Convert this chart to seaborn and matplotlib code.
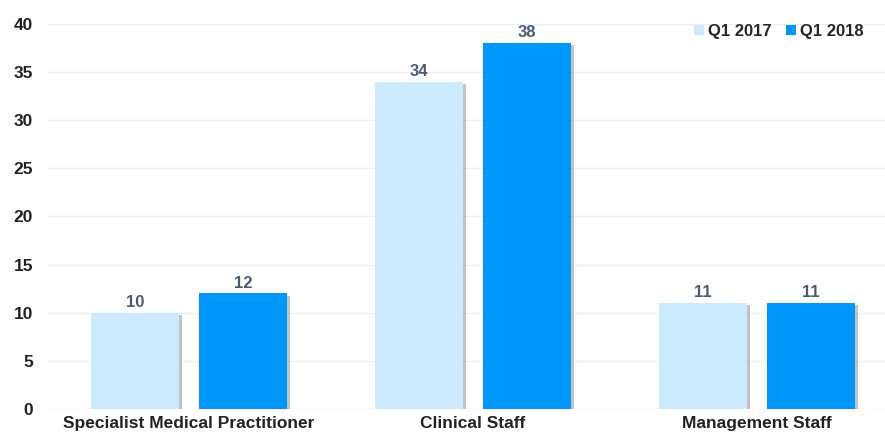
import pandas as pd
import matplotlib
matplotlib.use('Agg')
import matplotlib.pyplot as plt
import matplotlib.patheffects as pe
import seaborn as sns

# Data
categories = ['Specialist Medical Practitioner', 'Clinical Staff', 'Management Staff']
q1_2017 = [10, 34, 11]
q1_2018 = [12, 38, 11]
periods = ['Q1 2017', 'Q1 2018']
colors = ['#cdeafc', '#0097fb']

df = pd.DataFrame({
    'Category': categories * 2,
    'Period': [periods[0]] * 3 + [periods[1]] * 3,
    'Value': q1_2017 + q1_2018,
})

sns.set_style("white")
plt.rcParams['font.family'] = ['Liberation Sans', 'DejaVu Sans']

fig = plt.figure(figsize=(8.85, 4.41), dpi=100)
ax = fig.add_axes([0.053, 0.0726, 0.963, 0.873])

sns.barplot(data=df, x='Category', y='Value', hue='Period', order=categories,
            hue_order=periods, palette=colors, width=0.76, gap=0.18,
            saturation=1, ax=ax, legend=True)

# Soft shadow on bars
for bar in ax.patches:
    bar.set_edgecolor('none')
    bar.set_path_effects([pe.SimplePatchShadow(offset=(1.8, -1.5), shadow_rgbFace='#555555', alpha=0.35),
                          pe.Normal()])

for cont in ax.containers:
    ax.bar_label(cont, padding=2, fontsize=12, fontweight='bold', color='#4d5b70')

ax.set_ylim(0, 40)
ax.set_xlim(-0.5, 2.5)
ax.set_yticks(range(0, 41, 5))
ax.yaxis.grid(True, color='#eeeeee', linewidth=1)
ax.set_axisbelow(True)
ax.set_xlabel('')
ax.set_ylabel('')
sns.despine(ax=ax, left=True, bottom=True)
ax.tick_params(axis='both', length=0, labelsize=12.5)
ax.tick_params(axis='y', pad=10)
ax.tick_params(axis='x', pad=5)
for lbl in ax.get_xticklabels() + ax.get_yticklabels():
    lbl.set_fontweight('bold')
    lbl.set_color('#222222')

handles, labels = ax.get_legend_handles_labels()
leg = ax.legend(handles, labels, loc='upper right', bbox_to_anchor=(0.985, 0.965),
                bbox_transform=fig.transFigure, ncol=2, frameon=False,
                handlelength=0.55, handleheight=0.55, handletextpad=0.25, columnspacing=0.9,
                borderpad=0, prop={'weight': 'bold', 'size': 12})
for h in leg.get_patches():
    h.set_path_effects([])
    h.set_edgecolor('none')

plt.savefig('out.png', dpi=100)
plt.close()
